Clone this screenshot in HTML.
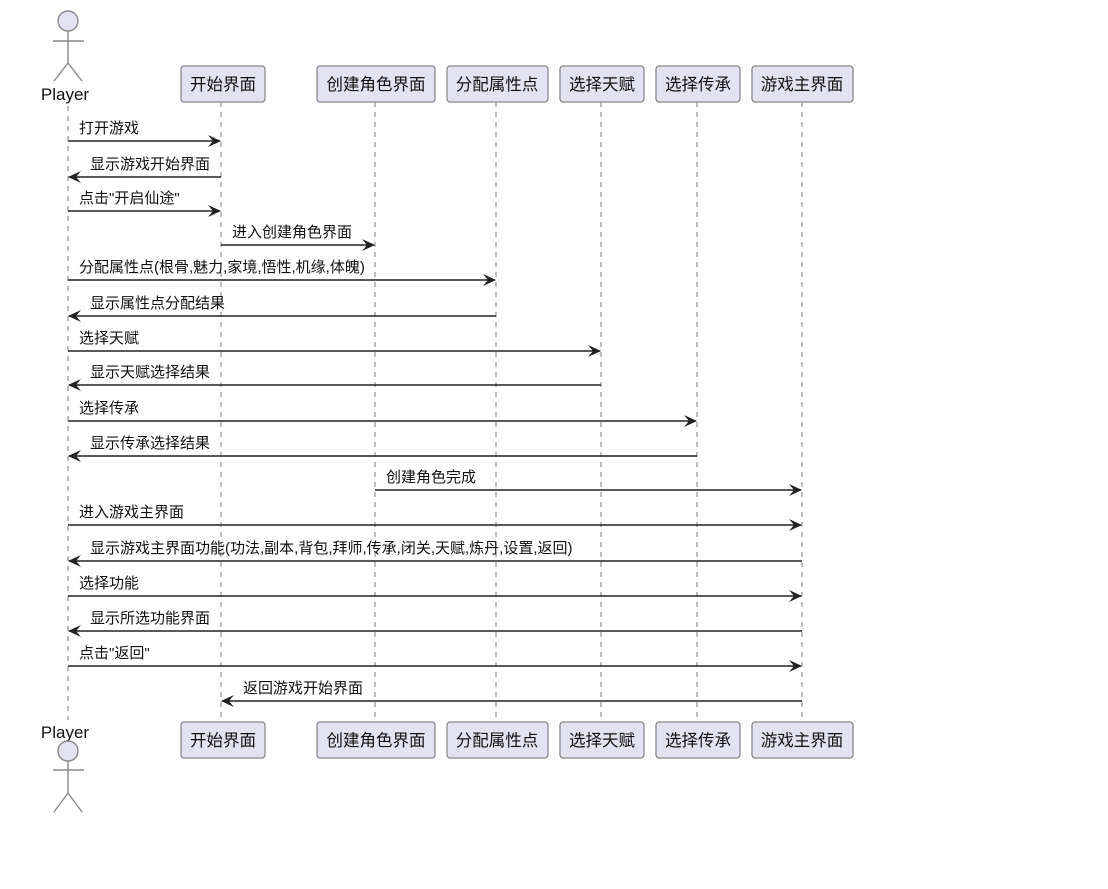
<!DOCTYPE html>
<html><head><meta charset="utf-8"><style>
body{margin:0;background:#fff;}
svg text{font-family:"Liberation Sans","Noto Sans CJK SC",sans-serif;font-size:15px;fill:#111;}
.box{fill:#e2e2f0;stroke:#888;stroke-width:1.3;}
.ll{stroke:#888;stroke-width:1.1;stroke-dasharray:5,5;}
.msg{stroke:#222;stroke-width:1.4;}
.act{fill:none;stroke:#888;stroke-width:1.4;}
.pt{font-size:16.5px;}
.pl{font-size:17px;}
</style></head><body>
<svg width="1108" height="884" xmlns="http://www.w3.org/2000/svg">
<g>
<line class="ll" x1="68" y1="106" x2="68" y2="720"/>
<line class="ll" x1="221" y1="102" x2="221" y2="722"/>
<line class="ll" x1="375" y1="102" x2="375" y2="722"/>
<line class="ll" x1="496" y1="102" x2="496" y2="722"/>
<line class="ll" x1="601" y1="102" x2="601" y2="722"/>
<line class="ll" x1="697" y1="102" x2="697" y2="722"/>
<line class="ll" x1="802" y1="102" x2="802" y2="722"/>
</g>
<circle cx="68" cy="21" r="10" fill="#e2e2f0" stroke="#888" stroke-width="1.4"/>
<path class="act" d="M68 31V63M53 41H84M68 63L54 81M68 63L82 81"/>
<text x="65" y="100" text-anchor="middle" class="pl">Player</text>
<text x="65" y="738" text-anchor="middle" class="pl">Player</text>
<circle cx="68" cy="751" r="10" fill="#e2e2f0" stroke="#888" stroke-width="1.4"/>
<path class="act" d="M68 761V793M53 770H84M68 793L54 812M68 793L82 812"/>
<g>
<rect class="box" x="181" y="66" width="84" height="36" rx="3"/><text x="223" y="90" text-anchor="middle" class="pt">开始界面</text>
<rect class="box" x="317" y="66" width="118" height="36" rx="3"/><text x="376" y="90" text-anchor="middle" class="pt">创建角色界面</text>
<rect class="box" x="447" y="66" width="101" height="36" rx="3"/><text x="497" y="90" text-anchor="middle" class="pt">分配属性点</text>
<rect class="box" x="560" y="66" width="84" height="36" rx="3"/><text x="602" y="90" text-anchor="middle" class="pt">选择天赋</text>
<rect class="box" x="656" y="66" width="84" height="36" rx="3"/><text x="698" y="90" text-anchor="middle" class="pt">选择传承</text>
<rect class="box" x="752" y="66" width="101" height="36" rx="3"/><text x="802" y="90" text-anchor="middle" class="pt">游戏主界面</text>
</g>
<g transform="translate(0,656)">
<rect class="box" x="181" y="66" width="84" height="36" rx="3"/><text x="223" y="90" text-anchor="middle" class="pt">开始界面</text>
<rect class="box" x="317" y="66" width="118" height="36" rx="3"/><text x="376" y="90" text-anchor="middle" class="pt">创建角色界面</text>
<rect class="box" x="447" y="66" width="101" height="36" rx="3"/><text x="497" y="90" text-anchor="middle" class="pt">分配属性点</text>
<rect class="box" x="560" y="66" width="84" height="36" rx="3"/><text x="602" y="90" text-anchor="middle" class="pt">选择天赋</text>
<rect class="box" x="656" y="66" width="84" height="36" rx="3"/><text x="698" y="90" text-anchor="middle" class="pt">选择传承</text>
<rect class="box" x="752" y="66" width="101" height="36" rx="3"/><text x="802" y="90" text-anchor="middle" class="pt">游戏主界面</text>
</g>
<defs>
<path id="ar" d="M0 0L-13 -6L-8 0L-13 6Z" fill="#222"/>
<path id="al" d="M0 0L13 -6L8 0L13 6Z" fill="#222"/>
</defs>
<g>
<line class="msg" x1="68" y1="141" x2="220" y2="141"/><use href="#ar" x="221" y="141"/><text x="79" y="133">打开游戏</text>
<line class="msg" x1="69" y1="177" x2="221" y2="177"/><use href="#al" x="68" y="177"/><text x="90" y="169">显示游戏开始界面</text>
<line class="msg" x1="68" y1="211" x2="220" y2="211"/><use href="#ar" x="221" y="211"/><text x="79" y="203">点击"开启仙途"</text>
<line class="msg" x1="221" y1="245" x2="374" y2="245"/><use href="#ar" x="375" y="245"/><text x="232" y="237">进入创建角色界面</text>
<line class="msg" x1="68" y1="280" x2="495" y2="280"/><use href="#ar" x="496" y="280"/><text x="79" y="272">分配属性点(根骨,魅力,家境,悟性,机缘,体魄)</text>
<line class="msg" x1="69" y1="316" x2="496" y2="316"/><use href="#al" x="68" y="316"/><text x="90" y="308">显示属性点分配结果</text>
<line class="msg" x1="68" y1="351" x2="600" y2="351"/><use href="#ar" x="601" y="351"/><text x="79" y="343">选择天赋</text>
<line class="msg" x1="69" y1="385" x2="601" y2="385"/><use href="#al" x="68" y="385"/><text x="90" y="377">显示天赋选择结果</text>
<line class="msg" x1="68" y1="421" x2="696" y2="421"/><use href="#ar" x="697" y="421"/><text x="79" y="413">选择传承</text>
<line class="msg" x1="69" y1="456" x2="697" y2="456"/><use href="#al" x="68" y="456"/><text x="90" y="448">显示传承选择结果</text>
<line class="msg" x1="375" y1="490" x2="801" y2="490"/><use href="#ar" x="802" y="490"/><text x="386" y="482">创建角色完成</text>
<line class="msg" x1="68" y1="525" x2="801" y2="525"/><use href="#ar" x="802" y="525"/><text x="79" y="517">进入游戏主界面</text>
<line class="msg" x1="69" y1="561" x2="802" y2="561"/><use href="#al" x="68" y="561"/><text x="90" y="553">显示游戏主界面功能(功法,副本,背包,拜师,传承,闭关,天赋,炼丹,设置,返回)</text>
<line class="msg" x1="68" y1="596" x2="801" y2="596"/><use href="#ar" x="802" y="596"/><text x="79" y="588">选择功能</text>
<line class="msg" x1="69" y1="631" x2="802" y2="631"/><use href="#al" x="68" y="631"/><text x="90" y="623">显示所选功能界面</text>
<line class="msg" x1="68" y1="666" x2="801" y2="666"/><use href="#ar" x="802" y="666"/><text x="79" y="658">点击"返回"</text>
<line class="msg" x1="222" y1="701" x2="802" y2="701"/><use href="#al" x="221" y="701"/><text x="243" y="693">返回游戏开始界面</text>
</g>
</svg>
</body></html>
